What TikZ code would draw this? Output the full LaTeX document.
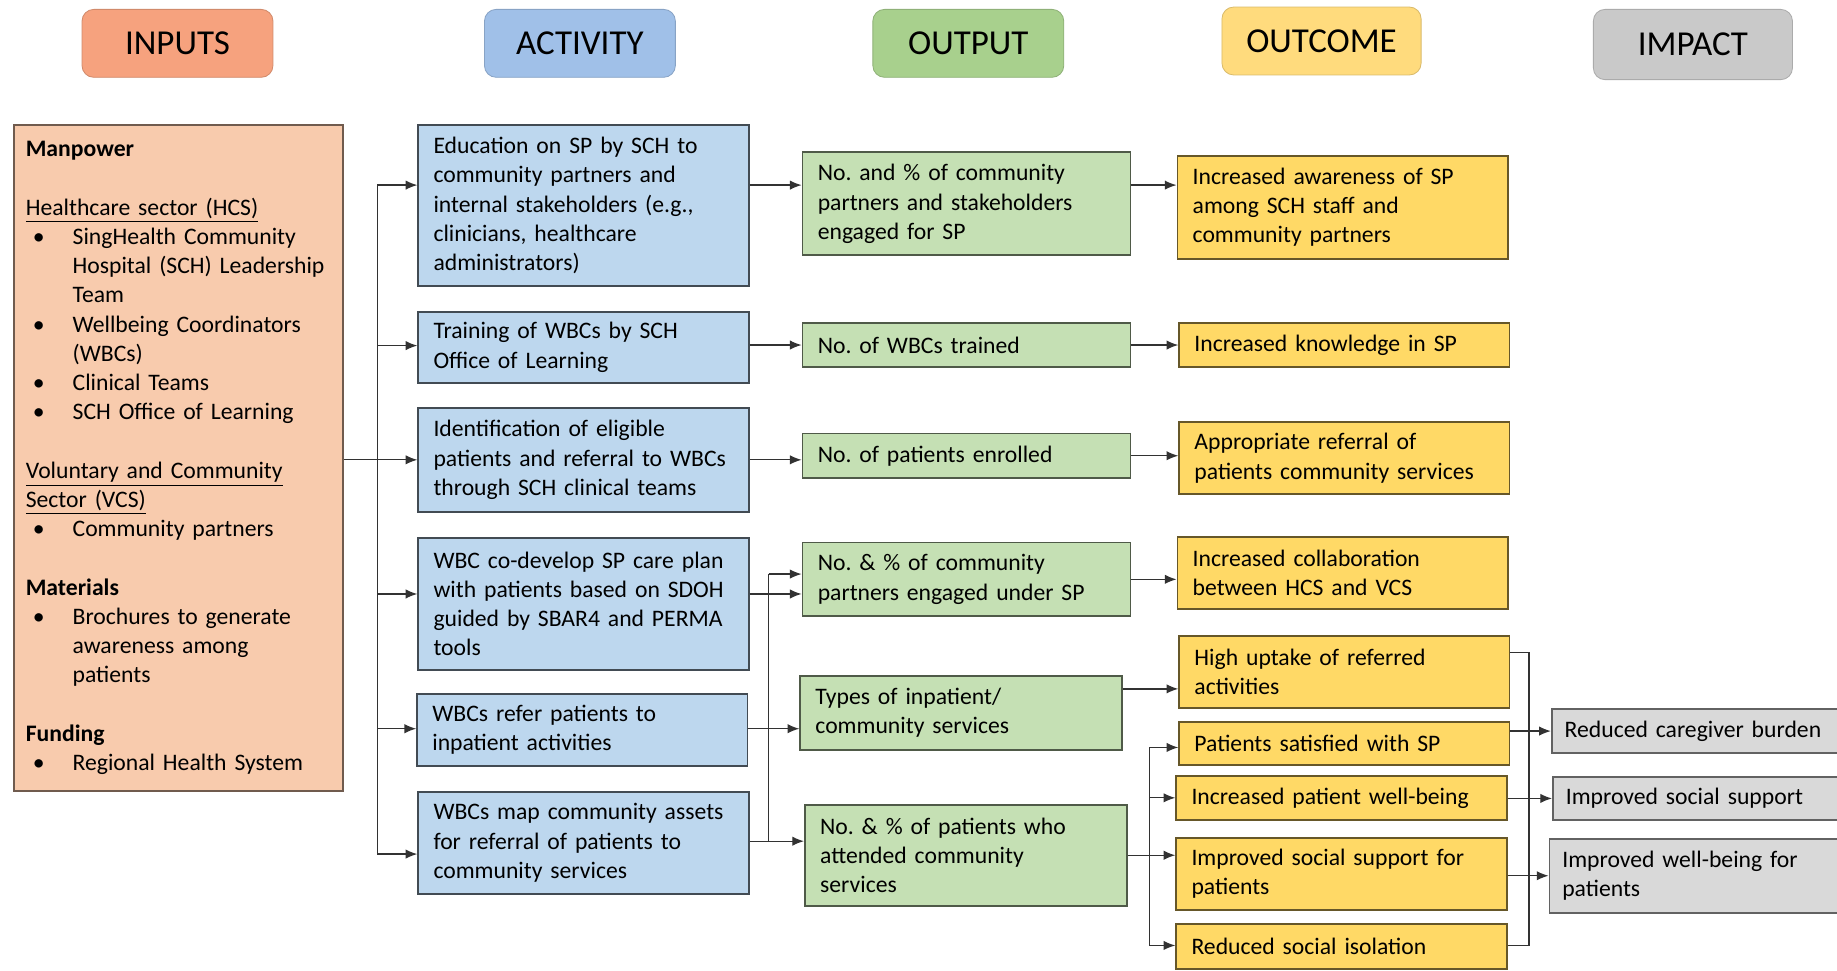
\documentclass[tikz,border=0pt]{standalone}
\usepackage{fontspec}
\setmainfont{Carlito}
\usepackage{tikz}
\usetikzlibrary{arrows.meta, positioning}

\definecolor{inhead}{RGB}{246,162,126}
\definecolor{acthead}{RGB}{160,192,232}
\definecolor{outhead}{RGB}{168,208,141}
\definecolor{ochead}{RGB}{255,219,125}
\definecolor{imphead}{RGB}{201,201,201}
\definecolor{infill}{RGB}{248,203,173}
\definecolor{actfill}{RGB}{189,215,238}
\definecolor{outfill}{RGB}{197,224,180}
\definecolor{ocfill}{RGB}{255,217,102}
\definecolor{impfill}{RGB}{217,217,217}
\definecolor{linegrey}{RGB}{50,50,50}

\newcommand{\inbullet}{\makebox[0.8cm][l]{\hspace{0.12cm}\textbullet}}
\newcommand{\inindent}{\hspace*{0.8cm}}

\begin{document}
\frenchspacing
\begin{tikzpicture}[x=0.02cm, y=-0.02cm]
    \useasboundingbox (0,0) rectangle (1568,828);
    % Setup the style for the boxes
        \tikzset{head style/.style={rectangle,
                                    rounded corners=2mm,
                                    minimum width=3.26cm,
                                    minimum height=1.16cm,
                                    line width=0.4pt,
                                    font=\fontsize{17}{20}\selectfont},
                 box style/.style={rectangle,
                                   line width=0.9pt,
                                   align=left,
                                   inner xsep=0.26cm,
                                   inner ysep=0pt,
                                   font=\fontsize{11.5}{14.2}\selectfont},
                 in box/.style={box style, fill=infill, draw=infill!45!black,
                                inner xsep=0.2cm, text width=5.22cm},
                 act box/.style={box style, fill=actfill, draw=actfill!35!black,
                                 text width=5.12cm},
                 out box/.style={box style, fill=outfill, draw=outfill!40!black,
                                 text width=5.08cm},
                 oc box/.style={box style, fill=ocfill, draw=ocfill!40!black,
                                text width=5.12cm},
                 imp box/.style={box style, fill=impfill, draw=impfill!45!black,
                                 inner xsep=0.22cm, text width=5.22cm}}
        % Draw the column headings
        \node[head style, fill=inhead, draw=inhead!85!black] at (151.5, 37)   (hin)  {INPUTS};
        \node[head style, fill=acthead, draw=acthead!85!black] at (495, 37)   (hact) {ACTIVITY};
        \node[head style, fill=outhead, draw=outhead!85!black] at (826.5, 37) (hout) {OUTPUT};
        \node[head style, fill=ochead, draw=ochead!85!black, minimum width=3.4cm] at (1128, 35) (hoc) {OUTCOME};
        \node[head style, fill=imphead, draw=imphead!85!black, minimum width=3.4cm, minimum height=1.2cm] at (1445, 38) (himp) {IMPACT};
        % Draw the inputs
        \node[in box, minimum height=11.36cm] at (152.5, 391) (inputs)
             {\textbf{Manpower}\\[14.2pt]
              \underline{Healthcare sector (HCS)}\\
              \inbullet SingHealth Community\\
              \inindent Hospital (SCH) Leadership\\
              \inindent Team\\
              \inbullet Wellbeing Coordinators\\
              \inindent (WBCs)\\
              \inbullet Clinical Teams\\
              \inbullet SCH Office of Learning\\[14.2pt]
              \underline{Voluntary and Community}\\
              \underline{Sector (VCS)}\\
              \inbullet Community partners\\[14.2pt]
              \textbf{Materials}\\
              \inbullet Brochures to generate\\
              \inindent awareness among\\
              \inindent patients\\[14.2pt]
              \textbf{Funding}\\
              \inbullet Regional Health System};
        % Draw the activities
        \node[act box, minimum height=2.74cm] at (498, 175.5) (A1)
             {Education on SP by SCH to\\ community partners and\\ internal stakeholders (e.g.,\\ clinicians, healthcare\\ administrators)};
        \node[act box, minimum height=1.22cm] at (498, 296.5) (A2)
             {Training of WBCs by SCH\\ Office of Learning};
        \node[act box, minimum height=1.78cm] at (498, 392.5) (A3)
             {Identification of eligible\\ patients and referral to WBCs\\ through SCH clinical teams};
        \node[act box, minimum height=2.26cm] at (498, 515.5) (A4)
             {WBC co-develop SP care plan\\ with patients based on SDOH\\ guided by SBAR4 and PERMA\\ tools};
        \node[act box, minimum height=1.24cm] at (497, 623) (A5)
             {WBCs refer patients to\\ inpatient activities};
        \node[act box, minimum height=1.74cm] at (498, 719.5) (A6)
             {WBCs map community assets\\ for referral of patients to\\ community services};
        % Draw the outputs
        \node[out box, minimum height=1.76cm] at (825, 174) (O1)
             {No. and \% of community\\ partners and stakeholders\\ engaged for SP};
        \node[out box, minimum height=0.74cm] at (825, 294.5) (O2) {No. of WBCs trained};
        \node[out box, minimum height=0.76cm] at (825, 389) (O3) {No. of patients enrolled};
        \node[out box, minimum height=1.26cm] at (825, 494.5) (O4)
             {No. \& \% of community\\ partners engaged under SP};
        \node[out box, minimum height=1.26cm, text width=4.98cm] at (820.5, 608.5) (O5)
             {Types of inpatient/\\ community services};
        \node[out box, minimum height=1.72cm, text width=4.98cm] at (824.5, 730) (O6)
             {No. \& \% of patients who\\ attended community\\ services};
        % Draw the outcomes
        \node[oc box, minimum height=1.76cm] at (1146, 177) (C1)
             {Increased awareness of SP\\ among SCH staff and\\ community partners};
        \node[oc box, minimum height=0.74cm] at (1147.5, 294.5) (C2) {Increased knowledge in SP};
        \node[oc box, minimum height=1.24cm] at (1147.5, 391) (C3)
             {Appropriate referral of\\ patients community services};
        \node[oc box, minimum height=1.24cm] at (1146, 489) (C4)
             {Increased collaboration\\ between HCS and VCS};
        \node[oc box, minimum height=1.22cm] at (1147.5, 573.5) (C5)
             {High uptake of referred\\ activities};
        \node[oc box, minimum height=0.74cm] at (1147.5, 634.5) (C6) {Patients satisfied with SP};
        \node[oc box, minimum height=0.76cm] at (1145, 681) (C7) {Increased patient well-being};
        \node[oc box, minimum height=1.24cm] at (1145, 746) (C8)
             {Improved social support for\\ patients};
        \node[oc box, minimum height=0.76cm] at (1145, 808) (C9) {Reduced social isolation};
        % Draw the impacts
        \node[imp box, minimum height=0.76cm] at (1466, 624) (I1) {Reduced caregiver burden};
        \node[imp box, minimum height=0.74cm] at (1467, 681.5) (I2) {Improved social support};
        \node[imp box, minimum height=1.26cm] at (1464, 747.5) (I3)
             {Improved well-being for\\ patients};
        % Bus points of the connectors
        \coordinate (ib1) at (322, 158);
        \coordinate (ib2) at (322, 295);
        \coordinate (ib4) at (322, 507);
        \coordinate (ib5) at (322, 622);
        \coordinate (ib6) at (322, 729);
        \coordinate (ob4) at (656, 490);
        \coordinate (ob6) at (656, 718);
        \coordinate (cr5) at (981, 588);
        \coordinate (cb6) at (981, 638);
        \coordinate (cb9) at (981, 807);
        \coordinate (pb5) at (1305, 557);
        \coordinate (pb9) at (1305, 807);
        % Draw the bus lines
        \draw[line width=0.6pt, draw=linegrey]
        (ib1) -- (ib6)
        (ob4) -- (ob6)
        (cb6) -- (cb9)
        (C5.east |- pb5) -- (pb5) -- (pb9) -- (C9.east |- pb9);
        % Connect the boxes with arrows
        \path[->,
              >={Latex[length=2mm, width=1.6mm]},
              line width=0.6pt,
              color=linegrey]
        (ib1) edge (A1.west |- ib1)
        (ib2) edge (A2.west |- ib2)
        (inputs.east |- A3.west) edge (A3.west)
        (ib4) edge (A4.west |- ib4)
        (ib5) edge (A5.west |- ib5)
        (ib6) edge (A6.west |- ib6)
        (A1.east |- ib1) edge (O1.west |- ib1)
        (A2.east |- O2.west) edge (O2.west)
        (A3.east) edge (A3.east -| O3.west)
        (A4.east |- ib4) edge (O4.west |- ib4)
        (ob4) edge (O4.west |- ob4)
        (A5.east |- ib5) edge (O5.west |- ib5)
        (A6.east |- ob6) edge (O6.west |- ob6)
        (O1.east |- ib1) edge (C1.west |- ib1)
        (O2.east) edge (O2.east -| C2.west)
        (O3.east) edge (O3.east -| C3.west)
        (O4.east) edge (O4.east -| C4.west)
        (O5.east |- cr5) edge (C5.west |- cr5)
        (O6.east) edge (O6.east -| C8.west)
        (cb6) edge (C6.west |- cb6)
        (cb6 |- C7.west) edge (C7.west)
        (cb9) edge (C9.west |- cb9)
        (C6.east |- I1.west) edge (I1.west)
        (C7.east |- I2.west) edge (I2.west)
        (C8.east |- I3.west) edge (I3.west);
\end{tikzpicture}
\end{document}
